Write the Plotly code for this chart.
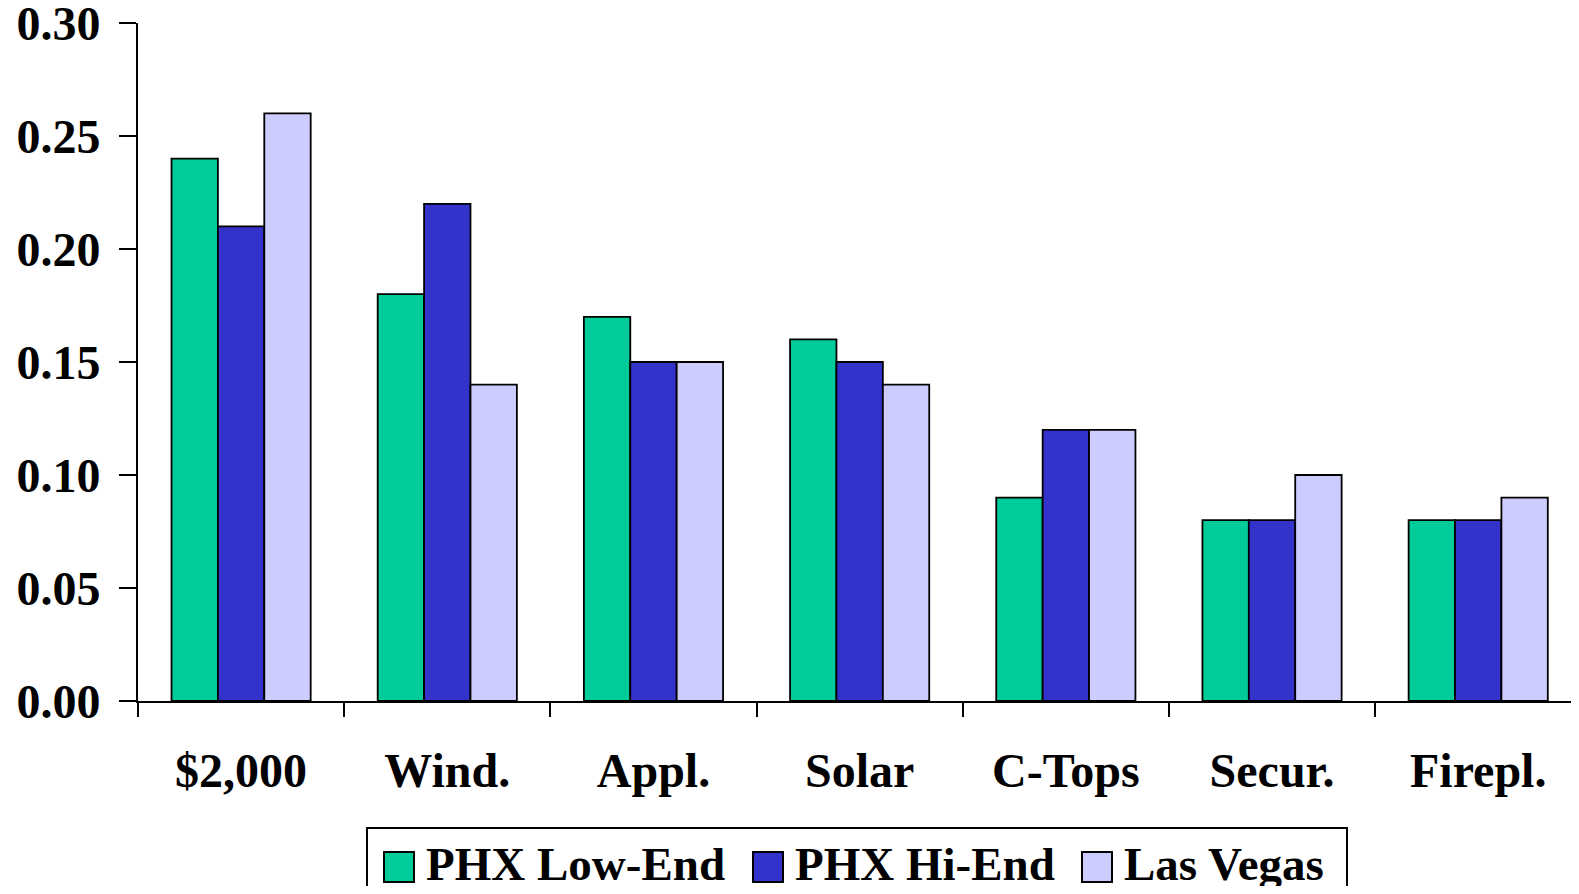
import plotly.graph_objects as go

categories = ["$2,000", "Wind.", "Appl.", "Solar", "C-Tops", "Secur.", "Firepl."]
phx_low = [0.24, 0.18, 0.17, 0.16, 0.09, 0.08, 0.08]
phx_hi = [0.21, 0.22, 0.15, 0.15, 0.12, 0.08, 0.08]
las_vegas = [0.26, 0.14, 0.15, 0.14, 0.12, 0.10, 0.09]
series_names = ["PHX Low-End", "PHX Hi-End", "Las Vegas"]
colors = ["#00CC99", "#3333CC", "#CCCCFF"]

# page body has an 8px margin on every side; size the figure so nothing overflows
OFF = 8
W, H = 1579 - 2 * OFF, 894 - 2 * OFF
L, R, T = 138 - OFF, 0, 23 - OFF
B = H - (701 - OFF)
PW, PH = W - L - R, H - T - B

FONT = dict(family="Liberation Serif, Times New Roman, serif", size=48, color="black", weight="bold")


def px_x(x):
    return (x - OFF - L) / PW


def px_y(y):
    return (H + OFF - B - y) / PH


fig = go.Figure()
for name, vals, col in zip(series_names, [phx_low, phx_hi, las_vegas], colors):
    fig.add_trace(go.Bar(
        x=categories, y=vals, name=name,
        marker=dict(color=col, line=dict(color="black", width=1.8)),
        showlegend=False,
    ))

fig.update_layout(
    width=W, height=H,
    margin=dict(l=L, r=R, t=T, b=B, autoexpand=False),
    plot_bgcolor="white", paper_bgcolor="white",
    barmode="group", bargap=0.325, bargroupgap=0,
    font=FONT,
)

fig.update_yaxes(
    range=[0, 0.30], dtick=0.05, tickformat=".2f",
    showgrid=False, zeroline=False, automargin=False,
    showline=True, linecolor="black", linewidth=2,
    ticks="outside", ticklen=17, tickwidth=2, tickcolor="black",
    ticklabelstandoff=9, ticklabeloverflow="allow", tickfont=FONT,
)
fig.update_xaxes(
    range=[-0.5, 6.45], showgrid=False, automargin=False,
    showline=True, linecolor="black", linewidth=2,
    ticks="outside", tickson="boundaries", ticklen=14, tickwidth=2, tickcolor="black",
    ticklabelstandoff=26, ticklabeloverflow="allow", tickfont=FONT,
)

# legend box drawn by hand so the swatches can be large squares
fig.add_shape(type="rect", xref="paper", yref="paper",
              x0=px_x(367), x1=px_x(1347), y0=px_y(910), y1=px_y(828),
              line=dict(color="black", width=2), fillcolor="white")
swatch_x = [384, 753, 1082]
for sx, name, col in zip(swatch_x, series_names, colors):
    fig.add_shape(type="rect", xref="paper", yref="paper",
                  x0=px_x(sx), x1=px_x(sx + 30), y0=px_y(882), y1=px_y(852),
                  line=dict(color="black", width=2), fillcolor=col)
    fig.add_annotation(xref="paper", yref="paper", x=px_x(sx + 40), y=px_y(864),
                       text=name, showarrow=False, xanchor="left", yanchor="middle",
                       font=dict(FONT, size=47))

fig.write_html("out.html")
